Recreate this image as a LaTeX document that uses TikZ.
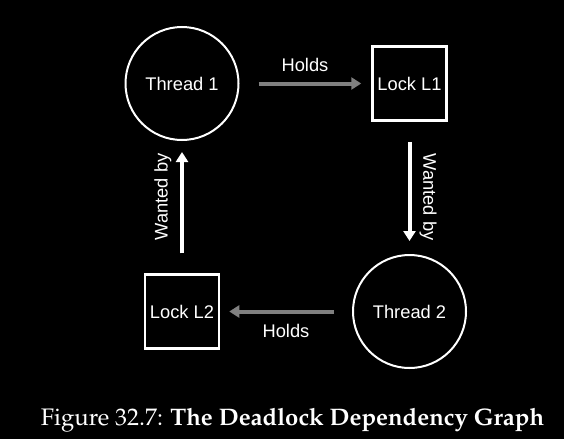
\documentclass[tikz,border=0pt]{standalone}
\usepackage[T1,TU]{fontenc}
\usepackage{fontspec}
\setmainfont{Liberation Sans}
\usetikzlibrary{arrows.meta}
\definecolor{holdgray}{RGB}{128,128,128}
\begin{document}
\begin{tikzpicture}[x=1pt,y=-1pt,
  every node/.style={text=white,font=\fontsize{18.3}{20}\selectfont},
  thread/.style={circle,draw=white,line width=2pt,minimum size=113pt,inner sep=0pt},
  lockbox/.style={rectangle,draw=white,line width=2.5pt,minimum size=74pt,inner sep=0pt},
  holds/.style={draw=holdgray,line width=4pt,-{Triangle[width=12pt,length=10pt]}},
  wanted/.style={draw=white,line width=4pt,-{Triangle[width=12pt,length=10pt]}},
  lbl/.style={inner sep=0pt}]
\fill[black] (0,0) rectangle (564,439);
\useasboundingbox (0,0) rectangle (564,439);
\node[thread] (t1) at (182,83.5) {Thread 1};
\node[lockbox] (l1) at (409.5,83.5) {Lock L1};
\node[thread] (t2) at (409.5,311.5) {Thread 2};
\node[lockbox] (l2) at (182,311.5) {Lock L2};
\draw[holds,shorten <=19pt,shorten >=10pt] (t1) -- (l1);
\draw[wanted,shorten <=20pt,shorten >=13pt] (l1) -- (t2);
\draw[holds,shorten <=18pt,shorten >=9pt] (t2) -- (l2);
\draw[wanted,shorten <=20pt,shorten >=11pt] (l2) -- (t1);
\node[lbl] (h1) at (305,65) {Holds};
\node[lbl] (h2) at (286,331) {Holds};
\node[lbl,rotate=-90] (w1) at (428,197) {Wanted by};
\node[lbl,rotate=90] (w2) at (163,197) {Wanted by};
\node[anchor=base,inner sep=0pt,font=\fontencoding{T1}\fontfamily{ppl}\fontseries{m}\fontshape{n}\fontsize{23.9}{26}\selectfont] (cap) at (292.5,425) {Figure 32.7: {\fontseries{b}\selectfont The Deadlock Dependency Graph}};
\end{tikzpicture}
\end{document}
